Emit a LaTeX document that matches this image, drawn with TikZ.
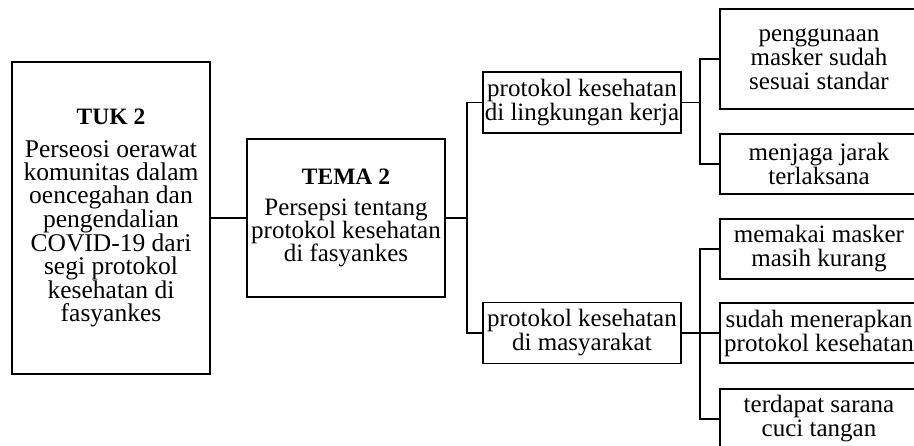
\documentclass[tikz,border=0pt]{standalone}
\usepackage{fontspec}
\setmainfont{Liberation Serif}
\begin{document}
\begin{tikzpicture}[x=1pt,y=-1pt,
  box/.style={draw, line width=1.4pt, align=center, inner sep=0pt, font=\fontsize{25}{24}\selectfont},
  conn/.style={line width=1.4pt}]
\path[use as bounding box, clip] (0,0) rectangle (914,446);
\node[box, minimum width=198, minimum height=312, font=\fontsize{25.5}{23}\selectfont] (tuk) at (111,218)
  {{\fontsize{23.5}{23}\selectfont\bfseries TUK 2}\\[10pt]Perseosi oerawat\\komunitas dalam\\oencegahan dan\\pengendalian\\COVID-19 dari\\segi protokol\\kesehatan di\\fasyankes};
\node[box, minimum width=198, minimum height=158, font=\fontsize{25}{23}\selectfont] (tema) at (346,218)
  {{\fontsize{23.5}{23}\selectfont\bfseries TEMA 2}\\[8pt]Persepsi tentang\\protokol kesehatan\\di fasyankes};
\node[box, minimum width=198, minimum height=61] (ling) at (582,102.5)
  {protokol kesehatan\\di lingkungan kerja};
\node[box, minimum width=198, minimum height=61] (masy) at (582,333)
  {protokol kesehatan\\di masyarakat};
\node[box, minimum width=198, minimum height=100] (peng) at (819,59)
  {penggunaan\\masker sudah\\sesuai standar};
\node[box, minimum width=198, minimum height=60] (menj) at (819,164)
  {menjaga jarak\\terlaksana};
\node[box, minimum width=198, minimum height=60] (mema) at (819,249)
  {memakai masker\\masih kurang};
\node[box, minimum width=198, minimum height=60] (suda) at (819,333)
  {sudah menerapkan\\protokol kesehatan};
\node[box, minimum width=198, minimum height=60] (terd) at (819,419)
  {terdapat sarana\\cuci tangan};
\coordinate (j1) at (467,218);
\coordinate (j2) at (700,102.5);
\coordinate (j3) at (700,333);
\draw[conn] (tuk.east) -- (tema.west);
\draw[conn] (tema.east) -- (j1);
\draw[conn] (ling.west) -| (j1) |- (masy.west);
\draw[conn] (ling.east) -- (j2);
\draw[conn] (peng.west) -| (j2) |- (menj.west);
\draw[conn] (masy.east) -- (j3);
\draw[conn] (mema.west) -| (j3) |- (terd.west);
\draw[conn] (j3) -- (suda.west);
\end{tikzpicture}
\end{document}
